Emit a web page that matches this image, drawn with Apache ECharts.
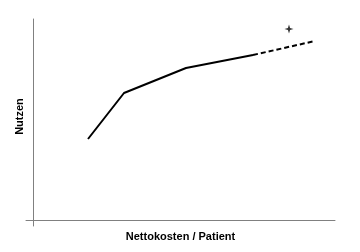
<!DOCTYPE html>
<html>
<head>
<meta charset="utf-8">
<script src="https://cdn.jsdelivr.net/npm/echarts@6/dist/echarts.min.js"></script>
<style>
  html, body { margin: 0; padding: 0; background: #fff; }
  #chart { width: 360px; height: 252px; }
</style>
</head>
<body>
<div id="chart"></div>
<script>
// values (arbitrary units, origin at the axis crossing)
const solidCurve = [[55, 81], [91, 127], [153, 152], [220, 165]];
const dashedCurve = [[220, 165], [282, 179]];
const starPoint = [[256, 191]];
const xName = 'Nettokosten / Patient';
const yName = 'Nutzen';

let chart = echarts.init(document.getElementById('chart'));
let labelStyle = {
  fontFamily: 'Liberation Sans',
  fontWeight: 'bold',
  fontSize: 11,
  color: '#000'
};
let axisLineStyle = { color: '#808080', width: 1 };

let option = {
  animation: false,
  backgroundColor: '#fff',
  grid: { left: 26, right: 25, top: 19, bottom: 26, containLabel: false, outerBoundsMode: 'none' },
  xAxis: {
    type: 'value',
    min: -7, max: 302,
    name: xName,
    nameLocation: 'middle',
    nameGap: 5,
    nameTextStyle: labelStyle,
    axisLine: { onZero: true, lineStyle: axisLineStyle },
    axisTick: { show: false },
    axisLabel: { show: false },
    splitLine: { show: false }
  },
  yAxis: {
    type: 'value',
    min: -6, max: 201,
    name: yName,
    nameLocation: 'middle',
    nameRotate: 90,
    nameGap: 1,
    nameTextStyle: Object.assign({ padding: [0, 0, 0, 12] }, labelStyle),
    axisLine: { onZero: true, lineStyle: axisLineStyle },
    axisTick: { show: false },
    axisLabel: { show: false },
    splitLine: { show: false }
  },
  series: [
    {
      type: 'line',
      data: solidCurve,
      symbol: 'none',
      lineStyle: { color: '#000', width: 2 }
    },
    {
      type: 'line',
      data: dashedCurve,
      symbol: 'none',
      lineStyle: { color: '#000', width: 2, type: [5, 3] }
    },
    {
      type: 'scatter',
      data: starPoint,
      symbol: 'path://M0,-5 L1.2,-1.2 L5,0 L1.2,1.2 L0,5 L-1.2,1.2 L-5,0 L-1.2,-1.2 Z',
      symbolSize: 9,
      itemStyle: { color: '#000' }
    }
  ]
};
chart.setOption(option);
</script>
</body>
</html>
